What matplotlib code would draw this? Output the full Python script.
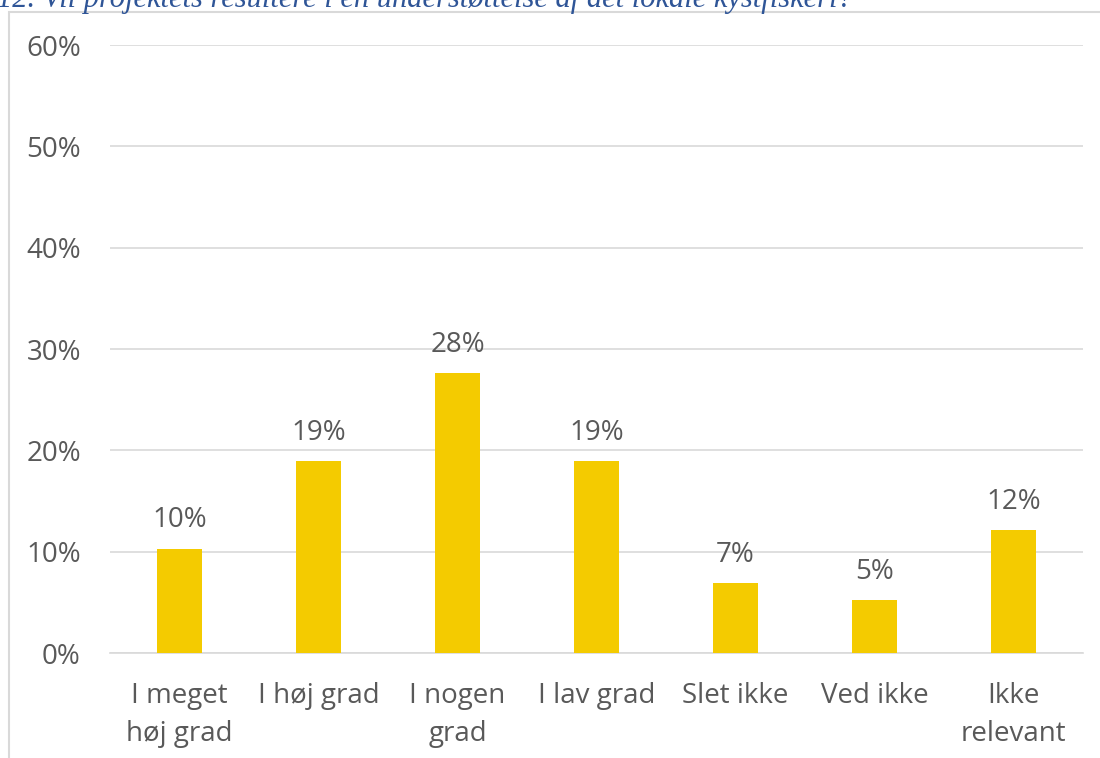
import matplotlib
matplotlib.use("Agg")
import matplotlib.pyplot as plt
from matplotlib.patches import Rectangle
from matplotlib.ticker import PercentFormatter

categories = ["I meget\nhøj grad", "I høj grad", "I nogen\ngrad", "I lav grad",
              "Slet ikke", "Ved ikke", "Ikke\nrelevant"]
values = [10.3, 18.9, 27.6, 18.9, 6.9, 5.2, 12.1]
labels = ["10%", "19%", "28%", "19%", "7%", "5%", "12%"]
title = "12. Vil projektets resultere i en understøttelse af det lokale kystfiskeri?"

plt.rcParams['font.family'] = ['Open Sans', 'DejaVu Sans']
txt = '#595959'

fig = plt.figure(figsize=(11, 7.58), dpi=100)
fig.patches.append(Rectangle((9/1100, -0.1), 1.2, 1 - 12/758 + 0.1, transform=fig.transFigure,
                             fill=False, edgecolor='#D9D9D9', linewidth=1.5))
fig.text(-3/1100, 1 - 7/758, title, fontsize=22, style='italic', color='#2F5597',
         family='Liberation Serif', va='baseline', ha='left')

ax = fig.add_axes([110/1100, 1 - 653/758, 973/1100, 608/758])
x = range(len(categories))
bars = ax.bar(x, values, width=0.32, color='#F4CB00', zorder=3)
for xi, v, l in zip(x, values, labels):
    ax.text(xi, v + 1.4, l, ha='center', va='bottom', fontsize=20, color=txt)

ax.set_ylim(0, 60)
ax.set_yticks(range(0, 61, 10))
ax.yaxis.set_major_formatter(PercentFormatter(decimals=0))
ax.set_xlim(-0.5, len(categories) - 0.5)
ax.set_xticks(list(x))
ax.set_xticklabels(categories, linespacing=1.45)
ax.grid(axis='y', color='#D9D9D9', linewidth=1.2, zorder=0)
for s in ['top', 'right', 'left']:
    ax.spines[s].set_visible(False)
ax.spines['bottom'].set_color('#D9D9D9')
ax.spines['bottom'].set_linewidth(1.2)
ax.tick_params(axis='both', length=0, labelsize=20, labelcolor=txt)
ax.tick_params(axis='y', pad=21)
ax.tick_params(axis='x', pad=21)

fig.savefig("out.png", dpi=100)
